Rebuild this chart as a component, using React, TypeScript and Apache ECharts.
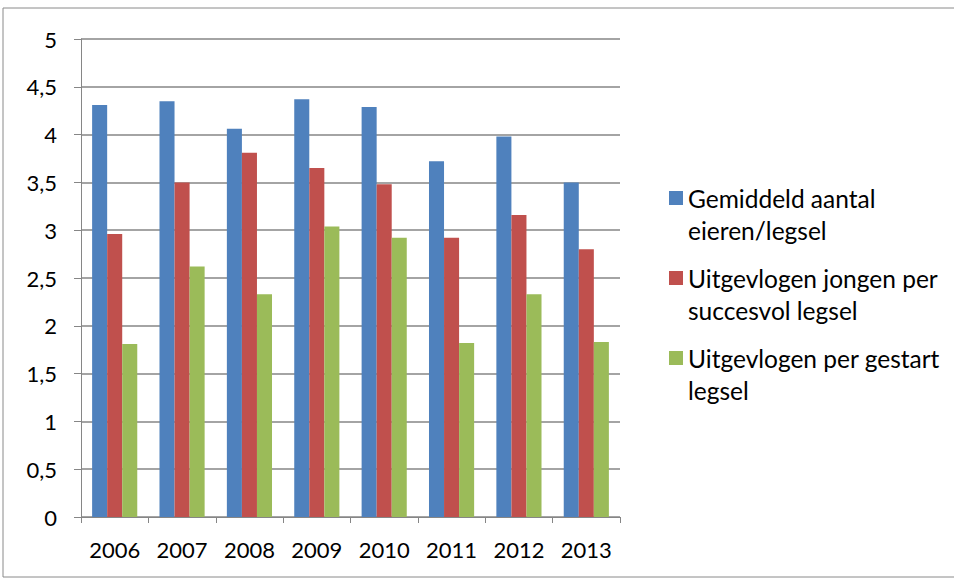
import React, { useEffect, useRef } from "react";
import * as echarts from "echarts";

const years = ["2006", "2007", "2008", "2009", "2010", "2011", "2012", "2013"];
const eieren = [4.31, 4.35, 4.06, 4.37, 4.29, 3.72, 3.98, 3.5];
const succesvol = [2.96, 3.5, 3.81, 3.65, 3.48, 2.92, 3.16, 2.8];
const gestart = [1.81, 2.62, 2.33, 3.04, 2.92, 1.82, 2.33, 1.83];
const seriesNames = [
  "Gemiddeld aantal\neieren/legsel",
  "Uitgevlogen jongen per\nsuccesvol legsel",
  "Uitgevlogen per gestart\nlegsel",
];
const colors = ["#4F81BD", "#C0504D", "#9BBB59"];

const FONT = "Lato";

export default function App() {
  const ref = useRef<HTMLDivElement>(null);
  useEffect(() => {
    const chart = echarts.init(ref.current!, undefined, { renderer: "svg" });
    const data = [eieren, succesvol, gestart];
    chart.setOption({
      animation: false,
      color: colors,
      textStyle: { fontFamily: FONT },
      graphic: [
        {
          type: "rect",
          shape: { x: 3, y: 8, width: 970, height: 569 },
          style: { fill: "none", stroke: "#8a8a8a", lineWidth: 1 },
          silent: true,
        },
      ],
      grid: { left: 81, right: 334, top: 39, bottom: 63 },
      legend: {
        orient: "vertical",
        left: 664,
        top: 145,
        itemWidth: 14,
        itemHeight: 14,
        itemGap: -16,
        icon: "rect",
        formatter: (name: string) => "\n" + name,
        textStyle: {
          fontFamily: FONT,
          fontSize: 24.5,
          color: "#000",
          lineHeight: 32,
        },
        data: seriesNames,
      },
      xAxis: {
        type: "category",
        data: years,
        axisLine: { lineStyle: { color: "#868686", width: 1 } },
        axisTick: { show: true, length: 6, alignWithLabel: false, lineStyle: { color: "#868686" } },
        axisLabel: { color: "#000", fontSize: 22, fontFamily: FONT, margin: 21 },
      },
      yAxis: {
        type: "value",
        min: 0,
        max: 5,
        interval: 0.5,
        axisLine: { show: true, lineStyle: { color: "#868686", width: 1 } },
        axisTick: { show: true, length: 7, lineStyle: { color: "#868686" } },
        splitLine: { lineStyle: { color: "#868686", width: 1.5 } },
        axisLabel: {
          color: "#000",
          fontSize: 22,
          fontFamily: FONT,
          margin: 24,
          formatter: (v: number) => String(v).replace(".", ","),
        },
      },
      series: seriesNames.map((name, i) => ({
        name,
        type: "bar",
        data: data[i],
        barGap: "0%",
        barCategoryGap: "33%",
        itemStyle: { color: colors[i] },
      })),
    });
    return () => chart.dispose();
  }, []);
  return (
    <div
      ref={ref}
      style={{ position: "fixed", left: 0, top: 0, width: 954, height: 580, background: "#fff" }}
    />
  );
}
